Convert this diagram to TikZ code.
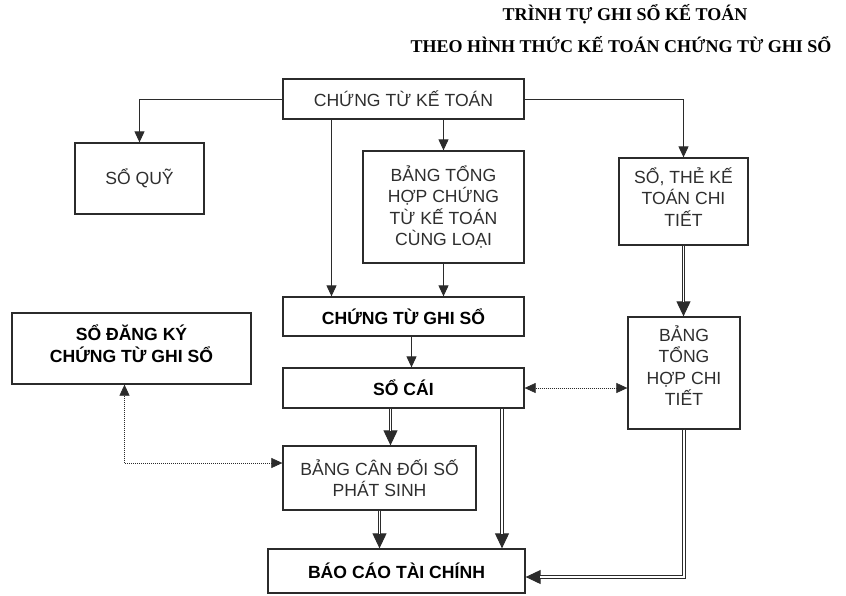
\documentclass[tikz,border=0pt]{standalone}
\usepackage{fontspec}
\setmainfont{Liberation Serif}
\setsansfont{Liberation Sans}
\usepackage{xcolor}
\usepackage{tikz}
\usetikzlibrary{arrows.meta,positioning,calc}

\definecolor{linegray}{HTML}{2B2B2B}
\definecolor{textgray}{HTML}{2E2E2E}

\tikzset{
  box/.style={draw=linegray, line width=1.3pt, align=center, inner sep=0pt,
    font=\sffamily\fontsize{17.6}{21.5}\selectfont, text=textgray},
  boldbox/.style={box, font=\sffamily\bfseries\fontsize{17.6}{21.5}\selectfont, text=black},
  link/.style={draw=linegray, line width=1pt, -{Triangle[length=11pt,width=10pt]}},
  % double connectors: a single line carries the tip, the double shaft covers it
  dbltip/.style={draw=linegray, line width=1pt, -{Triangle[length=15pt,width=14pt]}},
  dblline/.style={draw=linegray, line width=0.9pt, double=white, double distance=1.8pt,
    shorten >=14pt},
  dots/.style={draw=linegray, line width=0.6pt, dash pattern=on 1pt off 1pt,
    {Triangle[length=11pt,width=10pt]}-{Triangle[length=11pt,width=10pt]}}
}

\begin{document}
\begin{tikzpicture}[x=1pt, y=-1pt]
\useasboundingbox (0,0) rectangle (846,595);

% title
\node[font=\rmfamily\bfseries\fontsize{18}{22}\selectfont] (title1) at (625,14) {TRÌNH TỰ GHI SỔ KẾ TOÁN};
\node[font=\rmfamily\bfseries\fontsize{18}{22}\selectfont] (title2) at (621,45) {THEO HÌNH THỨC KẾ TOÁN CHỨNG TỪ GHI SỔ};

% boxes
\node[box, minimum width=241pt, minimum height=40pt] (ctkt) at (403.5,99) {CHỨNG TỪ KẾ TOÁN};
\node[box, minimum width=129pt, minimum height=71pt] (soquy) at (139.5,178.5) {SỔ QUỸ};
\node[box, minimum width=161pt, minimum height=112pt] (bangth) at (443.5,207) {BẢNG TỔNG\\HỢP CHỨNG\\TỪ KẾ TOÁN\\CÙNG LOẠI};
\node[box, minimum width=129pt, minimum height=87pt] (sothe) at (683.5,201.5) {SỔ, THẺ KẾ\\TOÁN CHI\\TIẾT\\[-12pt]~};
\node[boldbox, minimum width=241pt, minimum height=39pt] (ctgs) at (403.5,316.5) {CHỨNG TỪ GHI SỔ};
\node[boldbox, minimum width=239pt, minimum height=71pt] (sodk) at (131.5,348.5) {SỔ ĐĂNG KÝ\\CHỨNG TỪ GHI SỔ\\[-12pt]~};
\node[boldbox, minimum width=241pt, minimum height=40pt] (socai) at (403.5,388) {SỔ CÁI};
\node[box, minimum width=112pt, minimum height=112pt] (bthct) at (684,373) {BẢNG\\TỔNG\\HỢP CHI\\TIẾT\\[-7pt]~};
\node[box, minimum width=193pt, minimum height=64pt] (bcd) at (379.5,478) {BẢNG CÂN ĐỐI SỐ\\PHÁT SINH};
\node[boldbox, minimum width=257pt, minimum height=44pt] (bctc) at (396.5,571) {BÁO CÁO TÀI CHÍNH};

% thin arrows
\draw[link] (ctkt.west) -| (soquy.north);
\draw[link] ([xshift=-72pt]ctkt.south) -- ([xshift=-72pt]ctgs.north);
\draw[link] (ctkt.south -| bangth.north) -- (bangth.north);
\draw[link] (bangth.south) -- (bangth.south |- ctgs.north);
\draw[link] (ctkt.east) -| (sothe.north);
\draw[link] ([xshift=8pt]ctgs.south) -- ([xshift=8pt]socai.north);

% double arrows
\draw[dbltip] (sothe.south) -- (sothe.south |- bthct.north);
\draw[dblline] (sothe.south) -- (sothe.south |- bthct.north);
\draw[dbltip] ([xshift=-13pt]socai.south) -- ([xshift=-13pt]socai.south |- bcd.north);
\draw[dblline] ([xshift=-13pt]socai.south) -- ([xshift=-13pt]socai.south |- bcd.north);
\draw[dbltip] ([xshift=98.5pt]socai.south) -- ([xshift=98.5pt]socai.south |- bctc.north);
\draw[dblline] ([xshift=98.5pt]socai.south) -- ([xshift=98.5pt]socai.south |- bctc.north);
\draw[dbltip] (bcd.south) -- (bcd.south |- bctc.north);
\draw[dblline] (bcd.south) -- (bcd.south |- bctc.north);
\draw[dbltip] (bthct.south) |- ([yshift=-6pt]bctc.east);
\draw[dblline] (bthct.south) |- ([yshift=-6pt]bctc.east);

% dotted links
\draw[dots] (socai.east) -- (socai.east -| bthct.west);
\draw[dots] ([xshift=-7pt]sodk.south) |- ([yshift=15pt]bcd.west);
\end{tikzpicture}
\end{document}
